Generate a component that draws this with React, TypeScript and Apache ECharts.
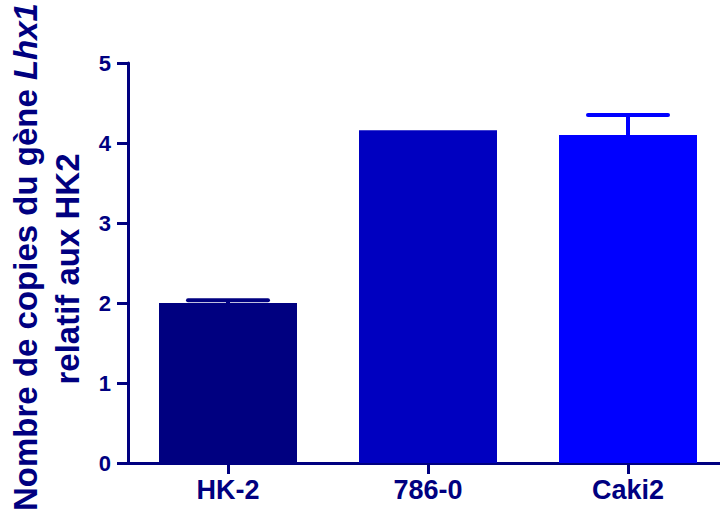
import React, { useEffect, useRef } from "react";
import * as echarts from "echarts";

const categories = ["HK-2", "786-0", "Caki2"];
const means = [2.0, 4.16, 4.1];
const errors = [0.035, 0, 0.25];
const barColors = ["#000080", "#0000C0", "#0000FF"];
const yTicks = [0, 1, 2, 3, 4, 5];
const titleLine1 = "Nombre de copies du gène ";
const titleItalic = "Lhx1";
const titleLine2 = "relatif aux HK2";

const NAVY = "#000080";
const FONT = "Liberation Sans, Arial, Helvetica, sans-serif";

export default function App() {
  const ref = useRef<HTMLDivElement>(null);
  useEffect(() => {
    if (!ref.current) return;
    const chart = echarts.init(ref.current, undefined, { renderer: "svg" });
    const option: any = {
      animation: false,
      backgroundColor: "#ffffff",
      grid: { left: 128, top: 63, width: 600, bottom: 54, containLabel: false },
      xAxis: {
        type: "category",
        data: categories,
        axisLine: { show: true, lineStyle: { color: NAVY, width: 3 } },
        axisTick: { show: true, alignWithLabel: true, length: 11, lineStyle: { color: NAVY, width: 3 } },
        axisLabel: { color: NAVY, fontSize: 27, fontWeight: "bold", fontFamily: FONT, margin: 13 },
        splitLine: { show: false },
      },
      yAxis: {
        type: "value",
        min: yTicks[0],
        max: yTicks[yTicks.length - 1],
        interval: 1,
        axisLine: { show: true, lineStyle: { color: NAVY, width: 3 } },
        axisTick: { show: true, length: 11, lineStyle: { color: NAVY, width: 3 } },
        axisLabel: { color: NAVY, fontSize: 22, fontWeight: "bold", fontFamily: FONT, margin: 17 },
        splitLine: { show: false },
      },
      series: [
        {
          type: "bar",
          barWidth: 138,
          data: means.map((v, i) => ({ value: v, itemStyle: { color: barColors[i] } })),
          z: 2,
        },
        {
          type: "custom",
          z: 3,
          data: means.map((v, i) => [i, v, errors[i]]),
          renderItem: (params: any, api: any) => {
            const idx = api.value(0);
            const v = api.value(1);
            const e = api.value(2);
            if (!e) return { type: "group", children: [] };
            const p0 = api.coord([idx, v]);
            const p1 = api.coord([idx, v + e]);
            const color = barColors[params.dataIndex];
            const half = 40;
            return {
              type: "group",
              children: [
                {
                  type: "line",
                  shape: { x1: p0[0], y1: p0[1], x2: p1[0], y2: p1[1] },
                  style: { stroke: color, lineWidth: 4 },
                },
                {
                  type: "line",
                  shape: { x1: p1[0] - half, y1: p1[1], x2: p1[0] + half, y2: p1[1] },
                  style: { stroke: color, lineWidth: 4, lineCap: "round" },
                },
              ],
            };
          },
        },
      ],
      graphic: [
        {
          type: "text",
          x: 25,
          y: 257,
          rotation: Math.PI / 2,
          style: {
            text: "{a|" + titleLine1 + "}{b|" + titleItalic + "}",
            align: "center",
            verticalAlign: "middle",
            rich: {
              a: { fontSize: 33, fontWeight: "bold", fontFamily: FONT, fill: NAVY },
              b: { fontSize: 33, fontWeight: "bold", fontStyle: "italic", fontFamily: FONT, fill: NAVY },
            },
          },
        },
        {
          type: "text",
          x: 67,
          y: 269,
          rotation: Math.PI / 2,
          style: {
            text: titleLine2,
            align: "center",
            verticalAlign: "middle",
            fontSize: 33,
            fontWeight: "bold",
            fontFamily: FONT,
            fill: NAVY,
          },
        },
      ],
    };
    chart.setOption(option);
    return () => chart.dispose();
  }, []);
  return (
    <div style={{ width: 720, height: 517, position: "absolute", left: 0, top: 0, overflow: "hidden" }}>
      <div ref={ref} style={{ width: 740, height: 517, position: "absolute", left: 0, top: 0 }} />
    </div>
  );
}
